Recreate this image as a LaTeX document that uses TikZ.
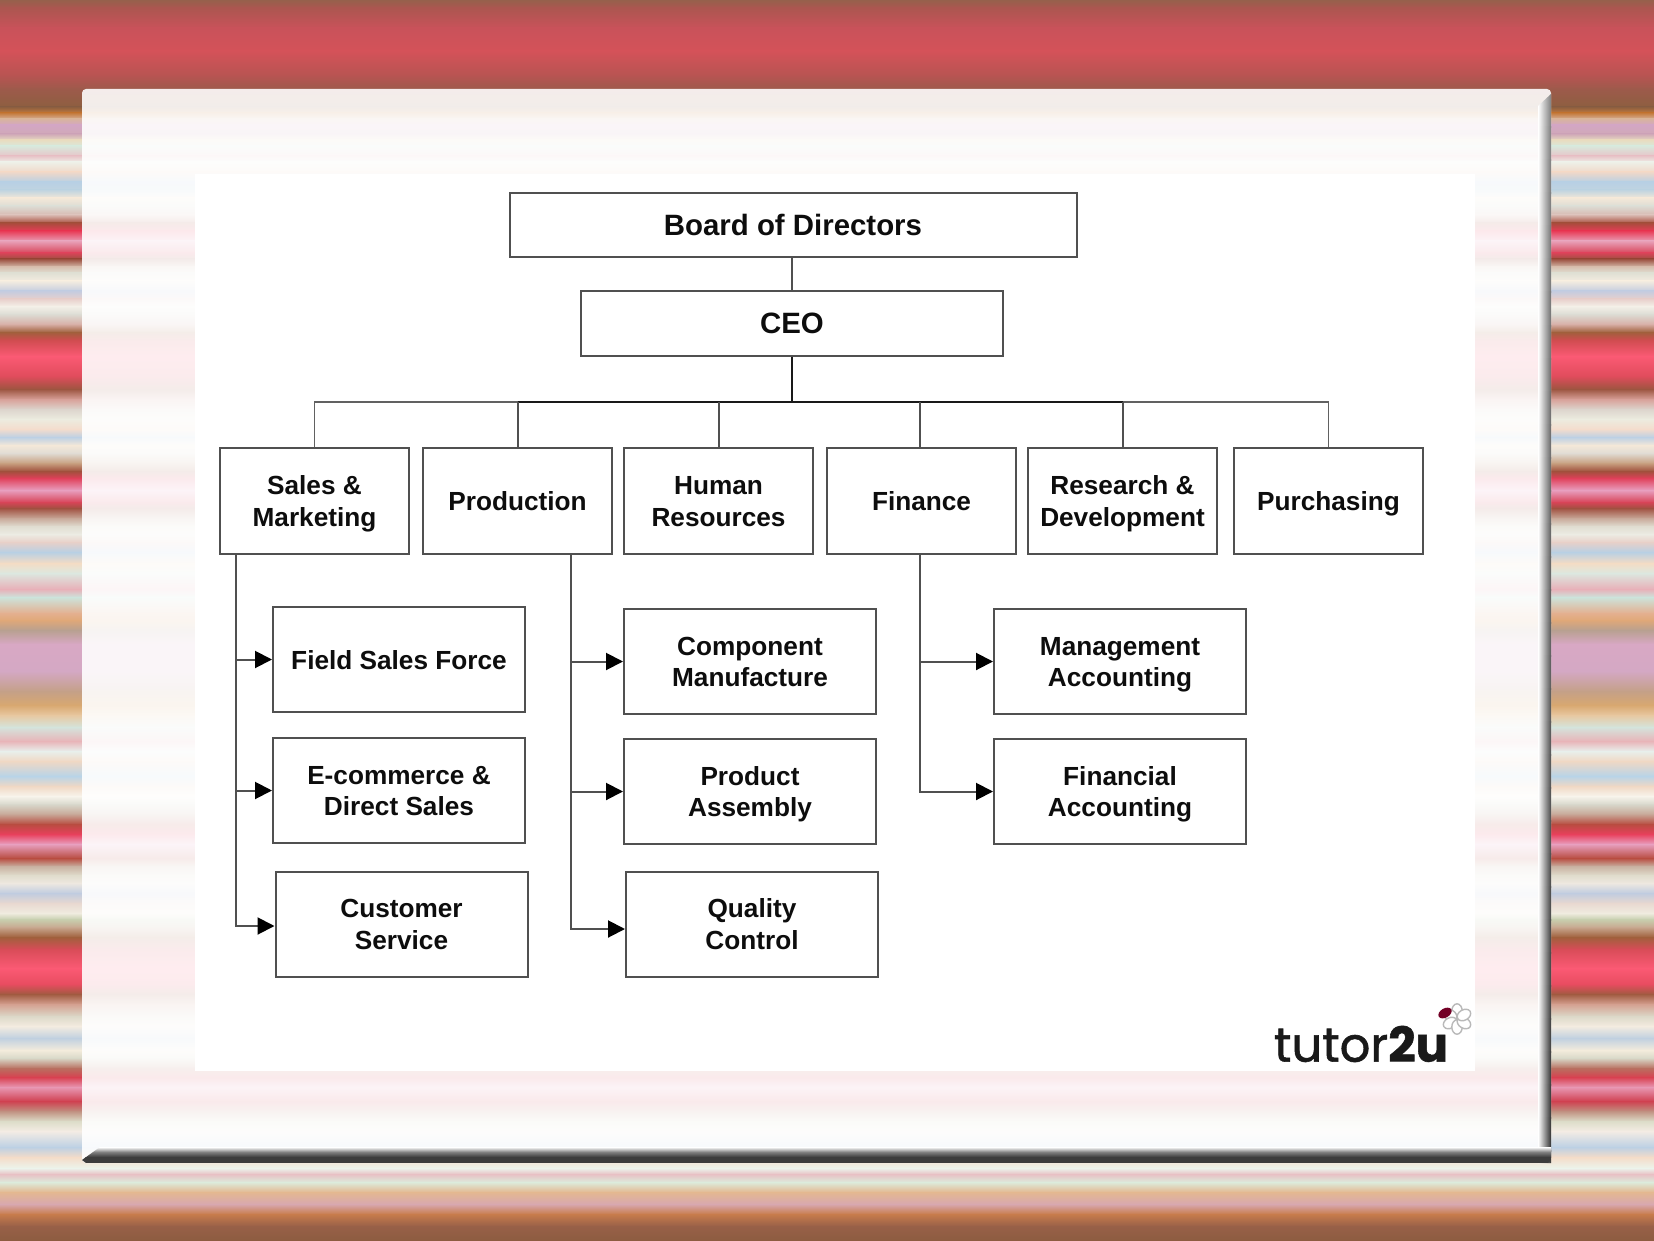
\documentclass[tikz,border=0pt]{standalone}
\usepackage{fontspec}
\setmainfont{Liberation Sans}
\newfontfamily\logofont[FakeBold=1.2]{Poppins}
\usetikzlibrary{arrows.meta}
\begin{document}
\begin{tikzpicture}[x=0.5pt,y=-0.5pt,line join=miter]
    \definecolor{linegray}{HTML}{505050}
    \definecolor{shadowgray}{HTML}{3C3C3C}
    \tikzstyle{unit}=[draw=linegray,line width=1pt,fill=white,align=center,inner sep=0pt,font=\fontsize{13.1}{15.8}\selectfont\bfseries,text=black!95,text height=11pt,text depth=1.4pt]
    \tikzstyle{top}=[unit,minimum width=283.5pt,minimum height=32pt,font=\fontsize{14.7}{16}\selectfont\bfseries]
    \tikzstyle{dept}=[unit,minimum width=94.5pt,minimum height=53pt]
    \tikzstyle{sub}=[unit,minimum width=126pt,minimum height=52.5pt]
    \tikzstyle{pair}=[text height=26.8pt]
    \tikzstyle{link}=[draw=linegray,line width=1pt]
    \tikzstyle{main}=[draw=black!90,line width=1pt]
    \tikzstyle{side}=[draw=linegray!90,line width=0.8pt]
    \tikzstyle{tip}=[link,-{Triangle[length=8.5pt,width=8.5pt,color=black]}]
    \useasboundingbox (0,0) rectangle (1654,1241);

    \xdef\lasty{0}\xdef\lastc{96604C}
    \foreach \y/\c in {8/AC5650,28/C9525A,51/D45259,75/B85452,89/9D5A4B,107/8D5F40,113/C47A3C,119/D8B39E,125/D3A6C4,134/D0A9B8,140/E8DCC0,146/D8E8DC,156/E8C4C8,162/EEF0E8,172/F0D8C8,182/B8D0E4,190/C0D4E0,198/F4E8D8,206/DCDCD4,215/D8B8B0,223/A84C3C,231/E83C58,241/E8A0B8,253/D84458,259/9C5040,267/D8C0B0,273/E0E0D4,281/F4ECE0,291/C4CCE0,299/E8D0CC,306/F4F0E8,314/DCDCD4,324/D8B0A8,332/A0603C,340/D04C50,356/FB5A74,376/E04C5C,389/9C5540,399/D8A098,409/DCD4CC,419/ECECE0,429/F4DCCC,437/BCD0E4,445/F4E8D8,453/E0DCD4,463/C8A080,471/A0503C,478/E0405A,490/E8A0C0,502/D84458,508/A05040,518/C8A898,526/E0DCD0,534/ECECE4,542/E8D0C8,552/B8D0E4,563/F4DCC4,573/DCE8E0,589/E8B0B8,597/CCE4DC,613/E4B090,620/E0A878,630/B8A090,644/D8A8C4,671/D4A8C4,691/C4A088,705/D8A870,715/E8C8A0,727/D4E4DC,741/E8B4B8,751/E8F0EC,761/F0D8C4,776/B8D4E8,786/F0D8C4,796/F8F4EC,804/D8D8CC,814/C8A898,824/B84C40,834/E8405C,844/E8A0C0,858/B84C40,866/C8B0A0,875/E0DCCC,883/EEE8E0,893/C0CCE0,903/E8D8D0,913/F0ECE0,919/C8D0B0,927/C8A890,937/A0603C,949/D84C58,968/FB5A74,984/E84C60,994/A05A40,1004/D4A090,1016/DCD8C8,1026/F4ECE0,1038/C0D0E0,1050/F4ECDC,1058/D8D8C8,1068/B87060,1077/D84050,1087/E898B4,1101/D04050,1111/C09080,1121/DCDCC8,1131/F4ECE4,1147/BCD0E4,1157/F4DCC8,1168/ECF4EC,1174/E8C0C4,1182/DCECDC,1192/E4B890,1204/D8A8B0,1214/C87C4C,1226/986048,1241/8C5C40}{
      \definecolor{stripea}{HTML}{\lastc}
      \definecolor{stripeb}{HTML}{\c}
      \shade[top color=stripea,bottom color=stripeb] (0,\lasty) rectangle (1654,\y+0.5);
      \xdef\lasty{\y}\xdef\lastc{\c}
    }

    \fill[white,opacity=0.89,rounded corners=2pt] (82,89) rectangle (1551,1163);
    \begin{scope}
      \clip (1551,94) -- (1538,106) -- (1538,1163) -- (1551,1163) -- cycle;
      \foreach \i in {0,...,32}{
        \pgfmathtruncatemacro{\dk}{50+\i}
        \shade[left color=white,right color=black!\dk] (1538,94+33*\i) rectangle (1551,128+33*\i);
      }
    \end{scope}
    \begin{scope}
      \clip (82,1160) -- (86,1163) -- (1548,1163) -- (1551,1160) -- (1551,1147) -- (100,1147) -- cycle;
      \shade[top color=white,bottom color=shadowgray,middle color=gray] (82,1147) rectangle (1551,1157);
      \fill[shadowgray] (82,1157) rectangle (1551,1163);
    \end{scope}
    \fill[white] (195,174) rectangle (1475,1071);

    \node[top](board) at (793,225.5){Board of Directors};
    \node[top,minimum width=211pt](ceo) at (792,323.5){CEO};

    \node[dept,pair](sales) at (314.5,501){Sales \&\\Marketing};
    \node[dept](production) at (517.5,501){Production};
    \node[dept,pair](hr) at (718.5,501){Human\\Resources};
    \node[dept](finance) at (921.5,501){Finance};
    \node[dept,pair](rd) at (1122.5,501){Research \&\\Development};
    \node[dept](purchasing) at (1328.5,501){Purchasing};

    \node[sub](field) at (399,659.5){Field Sales Force};
    \node[sub,pair](ecommerce) at (399,790.5){E-commerce \&\\Direct Sales};
    \node[sub,pair](customer) at (401.5,924){Customer\\Service};
    \node[sub,pair](component) at (750,661.5){Component\\Manufacture};
    \node[sub,pair](assembly) at (750,791.5){Product\\Assembly};
    \node[sub,pair](quality) at (752,924){Quality\\Control};
    \node[sub,pair](management) at (1120,661.5){Management\\Accounting};
    \node[sub,pair](financial) at (1120,791.5){Financial\\Accounting};

    \coordinate (bus) at (792,402);
    \coordinate (salesdrop) at (236,554);
    \coordinate (productiondrop) at (571,554);
    \coordinate (financedrop) at (920,554);

    \draw[link] (board.south -| bus) -- (ceo.north -| bus);
    \draw[main] (ceo.south -| bus) -- (bus);
    \draw[side] (sales.north) |- (bus);
    \draw[side] (purchasing.north) |- (bus);
    \draw[main] (production.north |- bus) -- (rd.north |- bus);
    \draw[link] (production.north) -- (production.north |- bus);
    \draw[link] (hr.north) -- (hr.north |- bus);
    \draw[link] (financedrop |- finance.north) -- (financedrop |- bus);
    \draw[link] (rd.north) -- (rd.north |- bus);

    \draw[tip] (salesdrop) |- (field.west);
    \draw[tip] (salesdrop) |- (ecommerce.west);
    \draw[tip] (salesdrop) |- ([yshift=-1pt]customer.west);
    \draw[tip] (productiondrop) |- (component.west);
    \draw[tip] (productiondrop) |- (assembly.west);
    \draw[tip] (productiondrop) |- ([yshift=-2.5pt]quality.west);
    \draw[tip] (financedrop) |- (management.west);
    \draw[tip] (financedrop) |- (financial.west);

    \node[font=\logofont\fontsize{24}{24}\selectfont,text=black!90,inner sep=0pt](logo) at (1361,1044){tutor\textbf{2u}};
    \foreach \a in {0,60,...,300}{
      \draw[gray!55,fill=white,line width=0.7pt,rotate around={\a:(1457,1019)}] (1457,1011) ellipse (2.6pt and 3.6pt);
    }
    \fill[purple!60!black,rotate around={-60:(1445,1013)}] (1445,1013) ellipse (2.3pt and 3.6pt);
\end{tikzpicture}
\end{document}
